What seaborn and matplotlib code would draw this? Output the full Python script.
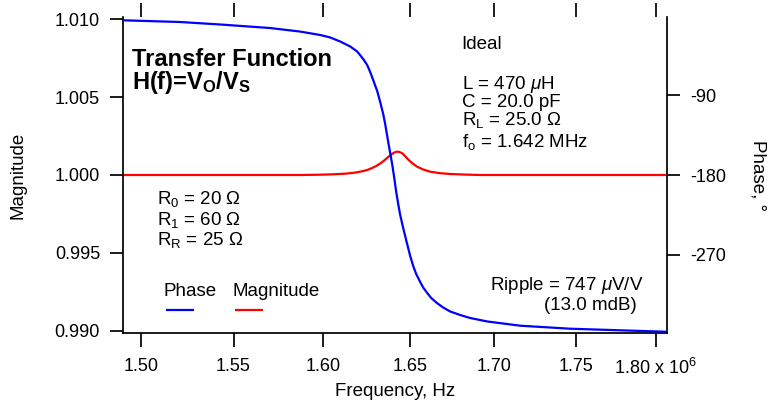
import numpy as np
import pandas as pd
import matplotlib
matplotlib.use("Agg")
import matplotlib.pyplot as plt
import seaborn as sns
from matplotlib.ticker import FixedLocator, FixedFormatter, NullLocator

# ---------------- data ----------------
# Phase curve (blue, right axis)
phase_freq_mhz = [1.4910, 1.52087, 1.54256, 1.57013, 1.58690, 1.59831, 1.60398, 1.60968,
                  1.61539, 1.61940, 1.62285, 1.62515, 1.62687, 1.62860, 1.63091, 1.63265,
                  1.63438, 1.63554, 1.63728, 1.63844, 1.63960, 1.64076, 1.64193, 1.64309,
                  1.64425, 1.64600, 1.64816, 1.65009, 1.65184, 1.65360, 1.65594, 1.65771,
                  1.66006, 1.66241, 1.66577, 1.66949, 1.67363, 1.67957, 1.68553, 1.69571,
                  1.71565, 1.74619, 1.77739, 1.80602]
phase_deg = [-4.9, -6.8, -9.6, -13.6, -17.6, -21.5, -24.3, -28.9,
             -34.5, -40.2, -48.7, -55.5, -63.4, -72.5, -84.9, -97.4,
             -110.9, -122.3, -142.6, -155.1, -167.9, -182.8, -199.2, -212.8,
             -225.3, -240.0, -257.0, -271.7, -283.0, -292.1, -301.1, -307.4,
             -313.6, -319.2, -324.9, -330.0, -334.5, -338.5, -341.9, -345.8,
             -350.6, -354.0, -355.8, -357.4]

# Magnitude curve (red, left axis)
mag_freq_mhz = [1.4910, 1.58690, 1.59831, 1.60569, 1.61253, 1.61825, 1.62215, 1.62515,
                1.62803, 1.63034, 1.63265, 1.63496, 1.63728, 1.63902, 1.64076, 1.64222,
                1.64367, 1.64542, 1.64717, 1.64892, 1.65126, 1.65419, 1.65771, 1.66182,
                1.66772, 1.67363, 1.68255, 1.69152, 1.80602]
magnitude = [1.0, 1.0, 1.000019, 1.000045, 1.000083, 1.000154, 1.000237, 1.000321,
             1.000449, 1.000577, 1.000737, 1.000929, 1.001154, 1.001314, 1.001436, 1.001494,
             1.001481, 1.001391, 1.001205, 1.000994, 1.000756, 1.000526, 1.000353, 1.000212,
             1.000115, 1.000064, 1.000026, 1.0, 1.0]

x_ticks = [1.50e6, 1.55e6, 1.60e6, 1.65e6, 1.70e6, 1.75e6, 1.80e6]
x_tick_labels = ["1.50", "1.55", "1.60", "1.65", "1.70", "1.75", r"1.80 x 10$^{6}$"]
mag_ticks = [0.990, 0.995, 1.000, 1.005, 1.010]
mag_tick_labels = ["0.990", "0.995", "1.000", "1.005", "1.010"]
phase_ticks = [-270, -180, -90]
phase_tick_labels = ["-270", "-180", "-90"]

series_names = ["Phase", "Magnitude"]
series_colors = ["#0000ff", "#ff0000"]

# ---------------- style ----------------
sns.set_style("ticks")
plt.rcParams.update({
    "font.family": ["Liberation Sans", "DejaVu Sans"],
    "mathtext.fontset": "custom",
    "mathtext.rm": "Liberation Sans",
    "mathtext.it": "Liberation Sans:italic",
    "mathtext.bf": "Liberation Sans:bold",
    "axes.unicode_minus": False,
    "axes.edgecolor": "black",
    "axes.labelcolor": "black",
    "text.color": "black",
    "xtick.color": "black",
    "ytick.color": "black",
})

fig = plt.figure(figsize=(7.68, 4.0), dpi=100)
ax = fig.add_axes([123 / 768, 1 - 333.3 / 400, 544 / 768, 316.6 / 400])
ax2 = ax.twinx()

df_mag = pd.DataFrame({"Frequency": np.array(mag_freq_mhz) * 1e6, "Magnitude": magnitude})
df_phase = pd.DataFrame({"Frequency": np.array(phase_freq_mhz) * 1e6, "Phase": phase_deg})

ax.set_xscale("log")
sns.lineplot(data=df_mag, x="Frequency", y="Magnitude", ax=ax,
             color=series_colors[1], lw=1.6, legend=False)
sns.lineplot(data=df_phase, x="Frequency", y="Phase", ax=ax2,
             color=series_colors[0], lw=1.6, legend=False)

ax.set_xlim(1.4905e6, 1.8072e6)
ax.set_ylim(0.98985, 1.01015)
ax2.set_ylim(-359.2, -0.8)

ax.xaxis.set_major_locator(FixedLocator(x_ticks))
ax.xaxis.set_major_formatter(FixedFormatter(x_tick_labels))
ax.xaxis.set_minor_locator(NullLocator())
ax.yaxis.set_major_locator(FixedLocator(mag_ticks))
ax.yaxis.set_major_formatter(FixedFormatter(mag_tick_labels))
ax.yaxis.set_minor_locator(NullLocator())
ax2.yaxis.set_major_locator(FixedLocator(phase_ticks))
ax2.yaxis.set_major_formatter(FixedFormatter(phase_tick_labels))
ax2.yaxis.set_minor_locator(NullLocator())

lw = 1.25
for s in ["top", "right"]:
    ax.spines[s].set_visible(False)
for s in ["left", "bottom"]:
    ax.spines[s].set_linewidth(lw)
for s in ["top", "left", "bottom"]:
    ax2.spines[s].set_visible(False)
ax2.spines["right"].set_linewidth(lw)

ax.tick_params(axis="x", which="major", top=True, labeltop=False, direction="out",
               length=10, width=lw, labelsize=13, pad=7.5)
ax.tick_params(axis="y", which="major", direction="out", length=9.5, width=lw,
               labelsize=13, pad=7)
ax2.tick_params(axis="y", which="major", direction="out", length=9.5, width=lw,
                labelsize=13, pad=7)

ax.set_xlabel("Frequency, Hz", fontsize=13.5)
ax.xaxis.set_label_coords(0.5, -0.158)
ax.set_ylabel("Magnitude", fontsize=13.5)
ax.yaxis.set_label_coords(-0.1765, 0.5)
ax2.set_ylabel("Phase, °", fontsize=13.5, rotation=270, va="bottom")
ax2.yaxis.set_label_coords(1.151, 0.5)

# ---------------- annotations ----------------
tr = ax2.transAxes
ax2.text(0.016, 0.844, "Transfer Function", transform=tr, fontsize=17,
         fontweight="bold", va="baseline")
ax2.text(0.016, 0.771, r"H(f)=V$_\mathbf{O}$/V$_\mathbf{S}$", transform=tr,
         fontsize=17, fontweight="bold", va="baseline")

fs = 13.5
ax2.text(0.6226, 0.897, "Ideal", transform=tr, fontsize=fs, va="baseline")
ax2.text(0.6226, 0.771, r"L = 470 $\mu$H", transform=tr, fontsize=fs, va="baseline")
ax2.text(0.6226, 0.716, "C = 20.0 pF", transform=tr, fontsize=fs, va="baseline")
ax2.text(0.6226, 0.658, r"R$_\mathrm{L}$ = 25.0 Ω", transform=tr, fontsize=fs, va="baseline")
ax2.text(0.6226, 0.589, r"f$_\mathrm{o}$ = 1.642 MHz", transform=tr, fontsize=fs, va="baseline")

ax2.text(0.0634, 0.407, r"R$_\mathrm{0}$ = 20 Ω", transform=tr, fontsize=fs, va="baseline")
ax2.text(0.0634, 0.342, r"R$_\mathrm{1}$ = 60 Ω", transform=tr, fontsize=fs, va="baseline")
ax2.text(0.0634, 0.279, r"R$_\mathrm{R}$ = 25 Ω", transform=tr, fontsize=fs, va="baseline")

ax2.text(0.9559, 0.1368, r"Ripple = 747 $\mu$V/V", transform=tr, fontsize=fs,
         va="baseline", ha="right")
ax2.text(0.9449, 0.0736, "(13.0 mdB)", transform=tr, fontsize=fs,
         va="baseline", ha="right")

# legend: label above a short line sample
for name, color, x0 in zip(series_names, series_colors, [0.0741, 0.2009]):
    ax2.text(x0, 0.1178, name, transform=tr, fontsize=fs, va="baseline")
    ax2.plot([x0 + 0.0044, x0 + 0.0564], [0.0736, 0.0736], transform=tr,
             color=color, lw=1.6, solid_capstyle="butt")

fig.savefig("out.png", dpi=100)
